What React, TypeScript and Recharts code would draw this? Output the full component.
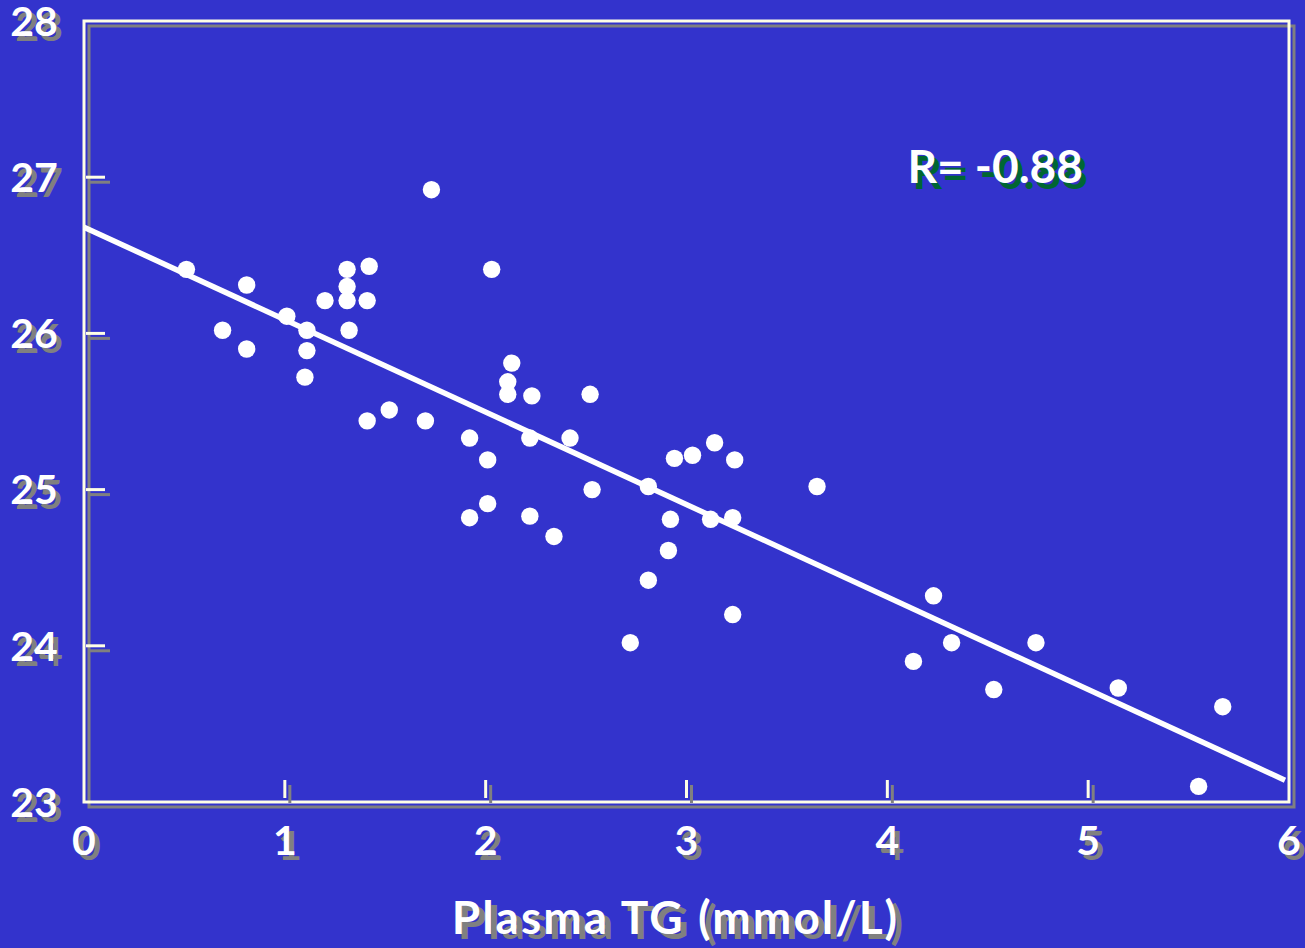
import React from 'react';
import { ScatterChart, Scatter, XAxis, YAxis, ReferenceArea, ReferenceDot } from 'recharts';

const tgValues = [0.51, 0.69, 0.81, 0.81, 1.01, 1.11, 1.11, 1.10, 1.20, 1.31, 1.31, 1.31, 1.32, 1.42, 1.41, 1.41, 1.52, 1.70, 1.73, 1.92, 1.92, 2.01, 2.01, 2.03, 2.11, 2.11, 2.13, 2.23, 2.22, 2.22, 2.34, 2.42, 2.52, 2.53, 2.72, 2.81, 2.81, 2.91, 2.92, 2.94, 3.03, 3.12, 3.14, 3.23, 3.24, 3.23, 3.65, 4.13, 4.23, 4.32, 4.53, 4.74, 5.15, 5.55, 5.67];
const yValues = [26.41, 26.02, 26.31, 25.90, 26.11, 26.02, 25.89, 25.72, 26.21, 26.41, 26.30, 26.21, 26.02, 26.43, 26.21, 25.44, 25.51, 25.44, 26.92, 25.33, 24.82, 25.19, 24.91, 26.41, 25.69, 25.61, 25.81, 25.60, 25.33, 24.83, 24.70, 25.33, 25.61, 25.00, 24.02, 25.02, 24.42, 24.61, 24.81, 25.20, 25.22, 24.81, 25.30, 24.82, 25.19, 24.20, 25.02, 23.90, 24.32, 24.02, 23.72, 24.02, 23.73, 23.10, 23.61];
const fitX = [0, 5.98];
const fitY = [26.68, 23.14];
const xTicks = [0, 1, 2, 3, 4, 5, 6];
const yTicks = [23, 24, 25, 26, 27, 28];
const xTitle = 'Plasma TG (mmol/L)';
const rLabel = 'R= -0.88';
const rPos = { x: 4.537, y: 27.07 };

const points = tgValues.map((x, i) => ({ x, y: yValues[i] }));
const fitData = fitX.map((x, i) => ({ x, y: fitY[i] }));

const FONT = 'Lato, "Open Sans", sans-serif';
const CREAM = '#FFFFE6';
const GRAY = '#808080';

const YTick = (props: any) => {
  const { y, payload } = props;
  const v = payload.value;
  const mark = v > 23 && v < 28;
  return (
    <g>
      {mark && <line x1={90} x2={110} y1={y + 5} y2={y + 5} stroke={GRAY} strokeWidth={3} />}
      {mark && <line x1={86} x2={105} y1={y} y2={y} stroke={CREAM} strokeWidth={3} />}
      <text x={39} y={y + 5} dy="0.36em" textAnchor="middle" fontFamily={FONT} fontWeight="bold" fontSize={41} fill={GRAY}>{v}</text>
      <text x={34} y={y} dy="0.36em" textAnchor="middle" fontFamily={FONT} fontWeight="bold" fontSize={41} fill="#FFFFFF">{v}</text>
    </g>
  );
};

const XTick = (props: any) => {
  const { x, payload } = props;
  const v = payload.value;
  const mark = v > 0 && v < 6;
  return (
    <g>
      {mark && <line x1={x + 5} x2={x + 5} y1={785} y2={803} stroke={GRAY} strokeWidth={3} />}
      {mark && <line x1={x} x2={x} y1={780} y2={798} stroke={CREAM} strokeWidth={3} />}
      <text x={x + 5} y={845} dy="0.36em" textAnchor="middle" fontFamily={FONT} fontWeight="bold" fontSize={41} fill={GRAY}>{v}</text>
      <text x={x} y={840} dy="0.36em" textAnchor="middle" fontFamily={FONT} fontWeight="bold" fontSize={41} fill="#FFFFFF">{v}</text>
    </g>
  );
};

const Border = (props: any) => {
  const { x, y, width, height } = props;
  return (
    <g>
      <rect x={x + 5} y={y + 5} width={width} height={height} fill="none" stroke={GRAY} strokeWidth={3} />
      <rect x={x} y={y} width={width} height={height} fill="none" stroke={CREAM} strokeWidth={3} />
    </g>
  );
};

const TitleLabel = (props: any) => {
  const vb = props.viewBox || {};
  const cx = (vb.x ?? 84) + (vb.width ?? 1205) / 2 - 11;
  return (
    <g>
      <text x={cx + 6} y={939} textAnchor="middle" fontFamily={FONT} fontWeight="bold" fontSize={46} letterSpacing={2} fill={GRAY}>{xTitle}</text>
      <text x={cx} y={934} textAnchor="middle" fontFamily={FONT} fontWeight="bold" fontSize={46} letterSpacing={2} fill="#FFFFFF">{xTitle}</text>
    </g>
  );
};

const RText = (props: any) => {
  const { cx, cy } = props;
  return (
    <g>
      <text x={cx + 5} y={cy + 6} dy="0.36em" textAnchor="middle" fontFamily={FONT} fontWeight="bold" fontSize={46} fill="#006633">{rLabel}</text>
      <text x={cx} y={cy} dy="0.36em" textAnchor="middle" fontFamily={FONT} fontWeight="bold" fontSize={46} fill="#FFFFFF">{rLabel}</text>
    </g>
  );
};

const Dot = (props: any) => <circle cx={props.cx} cy={props.cy} r={8.7} fill="#FFFFFF" />;
const NoDot = () => <g />;

export default function App() {
  return (
    <div style={{ position: 'absolute', left: 0, top: 0 }}>
      <ScatterChart
        width={1305}
        height={948}
        margin={{ top: 21, right: 16, left: 0, bottom: 0 }}
        style={{ background: '#3333CC' }}
      >
        <XAxis
          type="number"
          dataKey="x"
          domain={[0, 6]}
          ticks={xTicks}
          interval={0}
          height={146}
          axisLine={false}
          tickLine={false}
          tick={<XTick />}
          label={{ content: <TitleLabel /> }}
        />
        <YAxis
          type="number"
          dataKey="y"
          domain={[23, 28]}
          ticks={yTicks}
          interval={0}
          width={84}
          axisLine={false}
          tickLine={false}
          tick={<YTick />}
        />
        <ReferenceArea x1={0} x2={6} y1={23} y2={28} shape={<Border />} />
        <Scatter data={fitData} line={{ stroke: '#FFFFFF', strokeWidth: 5.5 }} shape={<NoDot />} isAnimationActive={false} />
        <Scatter data={points} shape={<Dot />} isAnimationActive={false} />
        <ReferenceDot x={rPos.x} y={rPos.y} r={0} shape={<RText />} />
      </ScatterChart>
    </div>
  );
}
